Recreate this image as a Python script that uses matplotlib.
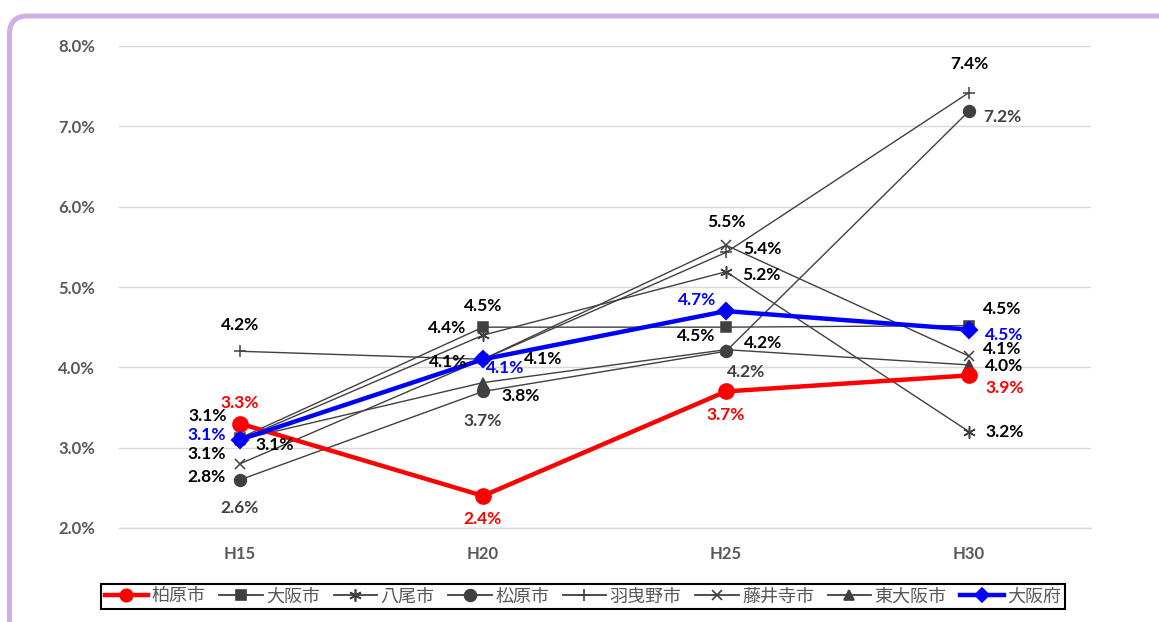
import matplotlib
matplotlib.use('Agg')
import matplotlib.pyplot as plt
import matplotlib.patches as mpatches
import matplotlib.transforms as mtransforms
from matplotlib.ticker import FuncFormatter
from matplotlib.lines import Line2D

years = ['H15', 'H20', 'H25', 'H30']
kashiwara = [3.3, 2.4, 3.7, 3.9]
osaka_city = [3.12, 4.5, 4.5, 4.52]
yao = [3.1, 4.4, 5.19, 3.2]
matsubara = [2.6, 3.7, 4.2, 7.19]
habikino = [4.2, 4.1, 5.43, 7.42]
fujiidera = [2.8, 4.1, 5.52, 4.14]
higashiosaka = [3.1, 3.81, 4.22, 4.03]
osaka_pref = [3.1, 4.1, 4.7, 4.47]

names = ['柏原市', '大阪市', '八尾市', '松原市', '羽曳野市', '藤井寺市', '東大阪市', '大阪府']

GRAY = '#404040'
NUM_FONT = 'Lato'
JP_FONT = ['Noto Sans CJK JP', 'DejaVu Sans']

# style per series: color, linewidth, marker, markersize, label colour, label offsets (px)
styles = [
    (kashiwara, 'red', 3.2, 'o', 10.5, 'red', [(0, 21), (0, -23), (0, -24), (36, -13)]),
    (osaka_city, GRAY, 1.0, 's', 7.5, 'black', [(-32, 22), (0, 21), (-30, -9), (33, 17)]),
    (yao, GRAY, 1.0, (6, 2, 0), 9, 'black', [(35, -5), (-36, 7), (35, -3), (36, 0)]),
    (matsubara, GRAY, 1.0, 'o', 8.5, GRAY, [(0, -28), (0, -30), (20, -21), (33, -6)]),
    (habikino, GRAY, 1.0, '+', 9, 'black', [(0, 26), (60, 0), (36, 3), (0, 29)]),
    (fujiidera, GRAY, 1.0, 'x', 7.5, 'black', [(-33, -13), (-35, -3), (0, 23), (33, 7)]),
    (higashiosaka, GRAY, 1.0, '^', 7.5, 'black', [(-33, -14), (38, -13), (37, 7), (35, -1)]),
    (osaka_pref, 'blue', 3.2, 'D', 8, 'blue', [(-33, 5), (22, -9), (-29, 11), (35, -5)]),
]

fig = plt.figure(figsize=(11.59, 6.22), dpi=100)

# rounded lavender frame
frame = mpatches.FancyBboxPatch((9.5, -80), 1300, 622 - 16 + 80,
                                boxstyle='round,pad=0,rounding_size=18',
                                facecolor='white', edgecolor='#D1AFE5', linewidth=3.6,
                                transform=mtransforms.IdentityTransform(), zorder=0)
fig.add_artist(frame)

ax = fig.add_axes([118.5 / 1159, 1 - 528 / 622, (1090.5 - 118.5) / 1159, (528 - 46) / 622])
ax.set_facecolor('none')
x = list(range(len(years)))

order = [1, 2, 3, 4, 5, 6, 0, 7]
for i in order:
    vals, color, lw, marker, ms, lcolor, offs = styles[i]
    big = lw > 2
    ax.plot(x, vals, color=color, linewidth=lw, marker=marker, markersize=ms,
            markeredgewidth=1.1 if not big else 1.5, markerfacecolor=color,
            markeredgecolor=color, zorder=5 if big else 3, solid_capstyle='round',
            clip_on=False)
    for xi, v, (dx, dy) in zip(x, vals, offs):
        ax.annotate(f'{v:.1f}%', (xi, v), xytext=(dx, dy), textcoords='offset pixels',
                    ha='center', va='center', fontsize=12.5, fontweight='bold',
                    family=NUM_FONT, color=lcolor, zorder=6)

ax.set_xlim(-0.5, 3.5)
ax.set_ylim(2, 8)
ax.set_xticks(x)
ax.set_xticklabels(years)
ax.set_yticks([2, 3, 4, 5, 6, 7, 8])
ax.yaxis.set_major_formatter(FuncFormatter(lambda v, p: f'{v:.1f}%'))
for lab in ax.get_xticklabels() + ax.get_yticklabels():
    lab.set_family(NUM_FONT)
    lab.set_fontweight('bold')
    lab.set_fontsize(12)
    lab.set_color('#595959')
ax.tick_params(axis='both', length=0)
ax.tick_params(axis='y', pad=17)
ax.tick_params(axis='x', pad=13)
ax.grid(axis='y', color='#D9D9D9', linewidth=1.0, zorder=0)
ax.set_axisbelow(True)
for s in ['top', 'right', 'left']:
    ax.spines[s].set_visible(False)
ax.spines['bottom'].set_color('#D9D9D9')
ax.spines['bottom'].set_linewidth(1.0)

# legend
leg_handles = []
for vals, color, lw, marker, ms, lcolor, offs in styles:
    big = lw > 2
    leg_handles.append(Line2D([], [], color=color, linewidth=lw if big else 1.3, marker=marker,
                              markersize=ms * (0.85 if big else 1.0), markerfacecolor=color,
                              markeredgecolor=color, markeredgewidth=1.2))
leg = fig.legend(leg_handles, names, loc='center', ncol=8,
                 bbox_to_anchor=(583 / 1159, 1 - 596.5 / 622),
                 prop={'family': JP_FONT, 'size': 13}, labelcolor='#595959',
                 frameon=True, fancybox=False, edgecolor='black', framealpha=1,
                 handlelength=2.4, handletextpad=0.2, columnspacing=0.75,
                 borderpad=0.2, borderaxespad=0)
leg.get_frame().set_linewidth(1.5)

fig.savefig('out.png', dpi=100)
